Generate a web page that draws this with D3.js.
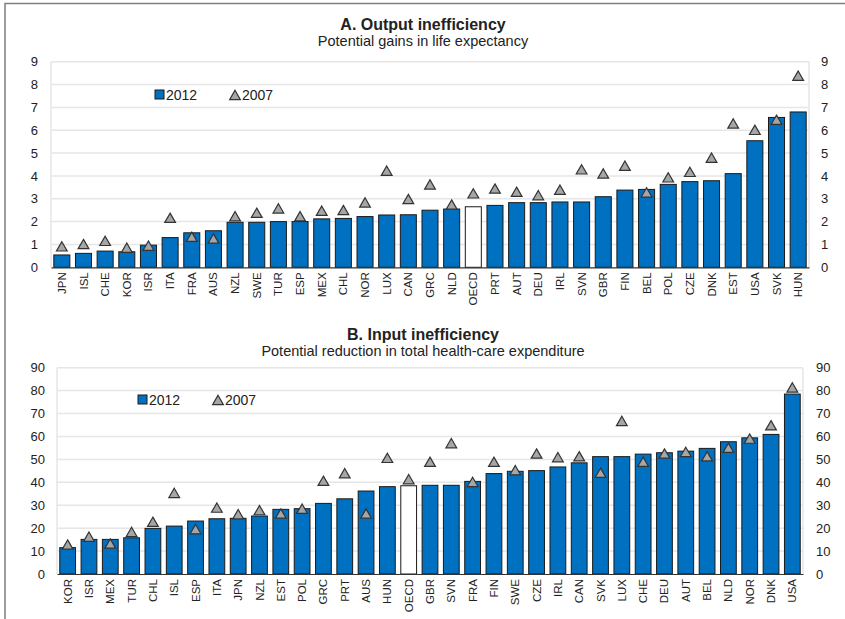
<!DOCTYPE html>
<html>
<head>
<meta charset="utf-8">
<script src="https://cdn.jsdelivr.net/npm/d3@7"></script>
<style>
  body { margin: 0; background: #fff; }
  text { font-family: "Liberation Sans", Arial, sans-serif; fill: #222; }
</style>
</head>
<body>
<div id="chart"></div>
<script>
var svgWidth = 845;
var svgHeight = 619;

// Panel A: output inefficiency
var countriesA = ["JPN","ISL","CHE","KOR","ISR","ITA","FRA","AUS","NZL","SWE","TUR","ESP","MEX","CHL","NOR","LUX","CAN","GRC","NLD","OECD","PRT","AUT","DEU","IRL","SVN","GBR","FIN","BEL","POL","CZE","DNK","EST","USA","SVK","HUN"];
var values2012A = [0.54,0.61,0.71,0.68,0.97,1.3,1.51,1.6,1.97,1.97,2.0,2.0,2.12,2.14,2.22,2.29,2.3,2.5,2.55,2.65,2.71,2.83,2.83,2.86,2.86,3.09,3.38,3.41,3.63,3.75,3.79,4.1,5.54,6.56,6.8];
var values2007A = [0.85,0.95,1.09,0.79,0.88,2.1,1.27,1.19,2.17,2.32,2.51,2.17,2.41,2.44,2.77,4.16,2.92,3.56,2.68,3.17,3.38,3.24,3.09,3.33,4.22,4.04,4.38,3.21,3.87,4.11,4.73,6.23,5.95,6.39,8.32];
var ticksA = [0,1,2,3,4,5,6,7,8,9];

// Panel B: input inefficiency
var countriesB = ["KOR","ISR","MEX","TUR","CHL","ISL","ESP","ITA","JPN","NZL","EST","POL","GRC","PRT","AUS","HUN","OECD","GBR","SVN","FRA","FIN","SWE","CZE","IRL","CAN","SVK","LUX","CHE","DEU","AUT","BEL","NLD","NOR","DNK","USA"];
var values2012B = [11.5,15.1,15.1,15.8,19.9,20.9,23.1,24.1,24.3,25.3,28.2,28.5,30.8,32.8,36.2,38.1,38.5,38.7,38.7,40.4,43.8,44.8,45.1,46.7,48.5,51.2,51.2,52.3,52.9,53.6,54.8,57.7,59.4,60.9,78.5];
var values2007B = [12.2,15.6,12.6,17.7,22.1,34.7,18.9,28.3,25.4,27.2,25.7,27.8,40.0,43.3,25.7,50.0,40.7,48.3,56.4,39.5,48.3,44.6,51.9,50.3,50.7,43.5,66.1,48.3,51.9,52.6,50.7,54.4,58.4,64.2,80.7];
var ticksB = [0,10,20,30,40,50,60,70,80,90];

var barColor = "#0070c0";
var triColor = "#a6a6a6";

var svg = d3.select("#chart")
  .append("svg")
  .attr("width", svgWidth)
  .attr("height", svgHeight);

// outer frame
svg.append("path")
  .attr("d", "M5,619 V3.5 H845")
  .attr("fill", "none")
  .attr("stroke", "#7f7f7f")
  .attr("stroke-width", 1.5);

function drawPanel(opt) {
  var data = opt.countries.map(function(c, i) {
    return { country: c, v2012: opt.v2012[i], v2007: opt.v2007[i] };
  });

  var x = d3.scaleBand()
    .domain(opt.countries)
    .range([opt.left, opt.right])
    .paddingInner(0.26)
    .paddingOuter(0.13);

  var y = d3.scaleLinear()
    .domain([0, opt.max])
    .range([opt.bottom, opt.top]);

  var g = svg.append("g");

  // titles
  g.append("text")
    .attr("x", 423)
    .attr("y", opt.titleY)
    .attr("text-anchor", "middle")
    .attr("font-size", 16)
    .attr("font-weight", "bold")
    .text(opt.title);
  g.append("text")
    .attr("x", 423)
    .attr("y", opt.titleY + 16)
    .attr("text-anchor", "middle")
    .attr("font-size", 14.5)
    .text(opt.subtitle);

  // grid
  g.append("g")
    .selectAll("line")
    .data(opt.ticks.slice(1))
    .enter()
    .append("line")
    .attr("x1", opt.left)
    .attr("x2", opt.right)
    .attr("y1", d => y(d))
    .attr("y2", d => y(d))
    .attr("stroke", "#e6e6e6")
    .attr("stroke-width", 1.5);
  g.append("line")
    .attr("x1", opt.left).attr("x2", opt.left)
    .attr("y1", opt.top).attr("y2", opt.bottom)
    .attr("stroke", "#e6e6e6").attr("stroke-width", 1.5);
  g.append("line")
    .attr("x1", opt.right).attr("x2", opt.right)
    .attr("y1", opt.top).attr("y2", opt.bottom)
    .attr("stroke", "#e6e6e6").attr("stroke-width", 1.5);

  // y axes, both sides
  var leftAxis = d3.axisLeft(y).tickValues(opt.ticks).tickSize(0).tickPadding(opt.padL);
  var rightAxis = d3.axisRight(y).tickValues(opt.ticks).tickSize(0).tickPadding(opt.padR);

  var la = g.append("g")
    .attr("transform", `translate(${opt.left}, 0)`)
    .call(leftAxis);
  var ra = g.append("g")
    .attr("transform", `translate(${opt.right}, 0)`)
    .call(rightAxis);
  [la, ra].forEach(function(a) {
    a.select(".domain").remove();
    a.selectAll("text").attr("font-size", 13).attr("fill", "#222");
  });

  // bars
  g.append("g")
    .selectAll("rect")
    .data(data)
    .enter()
    .append("rect")
    .attr("x", d => x(d.country))
    .attr("y", d => y(d.v2012))
    .attr("width", x.bandwidth())
    .attr("height", d => opt.bottom - y(d.v2012))
    .attr("fill", d => d.country == "OECD" ? "#fff" : barColor)
    .attr("stroke", "#1a1a1a")
    .attr("stroke-width", 1);

  // x axis
  var bottomAxis = d3.axisBottom(x).tickSize(0).tickPadding(4);
  var xa = g.append("g")
    .attr("transform", `translate(0, ${opt.bottom})`)
    .call(bottomAxis);
  xa.select(".domain").attr("stroke", "#333").attr("stroke-width", 1.2);
  xa.selectAll("text")
    .attr("font-size", 11.5)
    .attr("fill", "#222")
    .attr("transform", "rotate(-90)")
    .attr("text-anchor", "end")
    .attr("x", -5)
    .attr("y", 0)
    .attr("dy", "0.35em");

  // 2007 triangles
  var tri = d3.symbol().type(d3.symbolTriangle).size(50);
  g.append("g")
    .selectAll("path")
    .data(data)
    .enter()
    .append("path")
    .attr("d", tri)
    .attr("transform", d => `translate(${x(d.country) + x.bandwidth() / 2}, ${y(d.v2007)})`)
    .attr("fill", triColor)
    .attr("stroke", "#333")
    .attr("stroke-width", 1.2);

  // legend
  var lg = g.append("g")
    .attr("transform", `translate(${opt.legendX}, ${opt.legendY})`);
  lg.append("rect")
    .attr("x", 0).attr("y", -4)
    .attr("width", 9).attr("height", 9)
    .attr("fill", barColor)
    .attr("stroke", "#1a1a1a");
  lg.append("text")
    .attr("x", 11).attr("y", 1)
    .attr("dy", "0.35em")
    .attr("font-size", 14)
    .text("2012");
  lg.append("path")
    .attr("d", tri)
    .attr("transform", "translate(80, 2.5)")
    .attr("fill", triColor)
    .attr("stroke", "#333")
    .attr("stroke-width", 1.2);
  lg.append("text")
    .attr("x", 87).attr("y", 1)
    .attr("dy", "0.35em")
    .attr("font-size", 14)
    .text("2007");
}

drawPanel({
  title: "A. Output inefficiency",
  subtitle: "Potential gains in life expectancy",
  titleY: 30,
  countries: countriesA, v2012: values2012A, v2007: values2007A,
  ticks: ticksA, max: 9,
  left: 51, right: 809, top: 61.7, bottom: 267.3,
  padL: 13, padR: 12,
  legendX: 155, legendY: 94
});

drawPanel({
  title: "B. Input inefficiency",
  subtitle: "Potential reduction in total health-care expenditure",
  titleY: 340,
  countries: countriesB, v2012: values2012B, v2007: values2007B,
  ticks: ticksB, max: 90,
  left: 57, right: 803, top: 367.7, bottom: 574,
  padL: 12, padR: 13,
  legendX: 138, legendY: 399
});
</script>
</body>
</html>
